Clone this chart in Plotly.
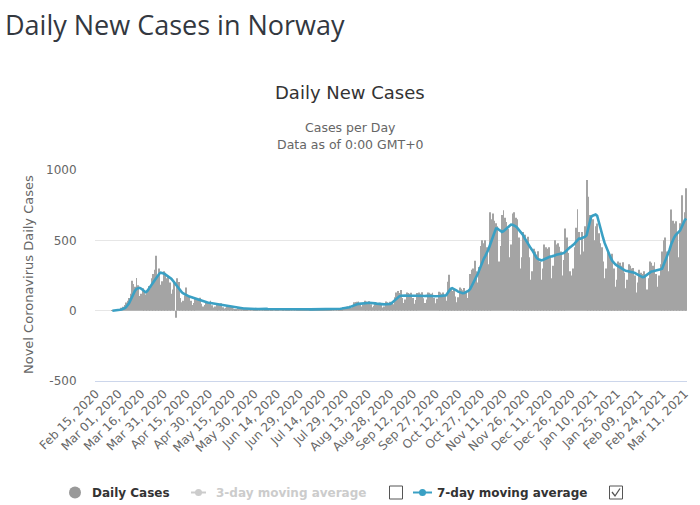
import plotly.graph_objects as go
import pandas as pd

# ---------------- data ----------------
start_date = "2020-02-15"
n_days = 392
dates = pd.date_range(start_date, periods=n_days, freq="D").strftime("%b %d, %Y").tolist()

N = None
daily_cases = [
    N, N, N, N, N, N, N,
    N, N, N, N, 1, 0, 1,
    4, 6, 12, 20, 28, 40, 58,
    70, 90, 120, 213, 190, 170, 232,
    180, 105, 120, 160, 140, 115, 146,
    175, 160, 230, 260, 290, 390, 245,
    300, 185, 210, 280, 270, 230, 240,
    200, 120, 150, 210, -50, 230, 204,
    90, 60, 70, 110, 165, 100, 105,
    70, 40, 55, 90, 85, 80, 91,
    50, 30, 40, 65, 62, 60, 71,
    38, 22, 30, 48, 46, 44, 52,
    25, 15, 20, 32, 30, 28, 32,
    16, 8, 12, 20, 18, 19, 19,
    12, 6, 10, 17, 15, 16, 15,
    13, 7, 10, 18, 17, 16, 17,
    11, 6, 9, 15, 14, 14, 15,
    12, 8, 10, 17, 15, 14, 15,
    13, 7, 11, 16, 18, 16, 17,
    9, 5, 7, 12, 12, 12, 13,
    10, 4, 8, 12, 11, 12, 13,
    9, 5, 8, 13, 12, 11, 12,
    11, 6, 9, 16, 15, 17, 17,
    14, 8, 12, 22, 26, 28, 30,
    35, 20, 30, 60, 62, 64, 65,
    50, 30, 45, 70, 66, 64, 67,
    45, 25, 35, 60, 55, 52, 57,
    40, 22, 30, 65, 60, 55, 64,
    60, 45, 95, 130, 140, 125, 147,
    90, 55, 80, 130, 125, 120, 128,
    90, 50, 75, 125, 130, 120, 131,
    88, 55, 80, 130, 128, 120, 127,
    90, 52, 85, 135, 130, 120, 130,
    110, 70, 205, 255, 160, 140, 152,
    100, 60, 95, 165, 155, 145, 162,
    130, 90, 150, 260, 290, 300, 355,
    280, 200, 310, 460, 500, 480, 500,
    450, 330, 700, 650, 690, 640, 621,
    600, 350, 460, 680, 714, 660, 631,
    580, 380, 470, 690, 700, 660, 650,
    520, 300, 380, 560, 540, 500, 525,
    380, 220, 280, 440, 420, 400, 422,
    350, 220, 300, 470, 450, 440, 451,
    380, 230, 320, 500, 470, 480, 455,
    420, 250, 360, 585, 520, 410, 280,
    250, 300, 450, 590, 721, 560, 400,
    560, 420, 600, 929, 810, 680, 670,
    650, 500, 600, 620, 550, 480, 450,
    350, 230, 300, 420, 400, 380, 405,
    300, 170, 220, 350, 340, 320, 344,
    270, 160, 220, 330, 320, 300, 304,
    250, 130, 200, 290, 270, 260, 280,
    240, 150, 230, 350, 340, 320, 344,
    260, 170, 250, 330, 420, 500, 520,
    420, 280, 450, 720, 640, 620, 636,
    560, 380, 621, 821, 632, 700, 871,
]

moving_avg_7 = [
    N, N, N, N, N, N, N,
    N, N, N, N, 0, 0.3, 1,
    2, 4, 6, 9, 12, 17, 24,
    35, 52, 75, 100, 122, 142, 155,
    160, 162, 157, 148, 136, 131, 138,
    150, 168, 185, 200, 218, 236, 250,
    262, 270, 268, 265, 258, 252, 245,
    240, 228, 214, 200, 185, 170, 152,
    140, 130, 122, 115, 110, 105, 100,
    97, 93, 89, 85, 81, 77, 73,
    70, 67, 64, 61, 58, 56, 54,
    52, 50, 48, 46, 44, 42, 40,
    38, 36, 34, 32, 30, 28, 26,
    24, 22, 20, 19, 18, 17, 16,
    15, 15, 14, 14, 14, 13, 13,
    13, 12, 12, 12, 13, 14, 14,
    14, 13, 12, 12, 11, 11, 12,
    13, 14, 15, 15, 14, 14, 13,
    12, 12, 11, 11, 12, 13, 14,
    14, 13, 12, 11, 11, 10, 10,
    10, 10, 9, 9, 9, 10, 10,
    11, 11, 10, 10, 9, 9, 10,
    11, 11, 12, 12, 12, 13, 13,
    14, 14, 15, 16, 17, 18, 20,
    24, 29, 34, 39, 43, 46, 48,
    50, 52, 53, 54, 55, 55, 56,
    56, 55, 54, 52, 50, 48, 47,
    46, 45, 45, 46, 46, 47, 48,
    55, 65, 75, 85, 95, 102, 106,
    108, 108, 107, 106, 105, 104, 104,
    105, 106, 106, 105, 104, 104, 103,
    103, 104, 105, 106, 106, 105, 104,
    103, 102, 102, 103, 104, 105, 106,
    107, 110, 125, 145, 155, 160, 156,
    150, 143, 135, 130, 125, 124, 126,
    130, 136, 143, 155, 175, 200, 225,
    240, 262, 290, 321, 345, 370, 390,
    410, 435, 465, 500, 530, 555, 583,
    583, 575, 565, 560, 565, 575, 585,
    595, 605, 612, 610, 607, 600, 590,
    578, 565, 550, 536, 515, 495, 475,
    455, 445, 430, 410, 390, 375, 366,
    362, 358, 360, 365, 372, 378, 383,
    385, 386, 388, 392, 398, 402, 405,
    405, 406, 410, 420, 432, 442, 450,
    458, 465, 475, 490, 505, 512, 512,
    515, 520, 526, 536, 580, 630, 667,
    675, 680, 683, 675, 630, 590, 550,
    515, 480, 450, 420, 395, 375, 355,
    340, 330, 322, 315, 305, 298, 292,
    288, 284, 280, 278, 276, 274, 272,
    268, 262, 255, 248, 242, 238, 240,
    248, 258, 268, 275, 278, 280, 282,
    285, 288, 290, 294, 298, 325, 350,
    370, 400, 435, 470, 500, 520, 538,
    550, 560, 571, 595, 620, 643, 655,
]

x_tick_labels = [
    "Feb 15, 2020", "Mar 01, 2020", "Mar 16, 2020", "Mar 31, 2020", "Apr 15, 2020",
    "Apr 30, 2020", "May 15, 2020", "May 30, 2020", "Jun 14, 2020", "Jun 29, 2020",
    "Jul 14, 2020", "Jul 29, 2020", "Aug 13, 2020", "Aug 28, 2020", "Sep 12, 2020",
    "Sep 27, 2020", "Oct 12, 2020", "Oct 27, 2020", "Nov 11, 2020", "Nov 26, 2020",
    "Dec 11, 2020", "Dec 26, 2020", "Jan 10, 2021", "Jan 25, 2021", "Feb 09, 2021",
    "Feb 24, 2021", "Mar 11, 2021",
]
y_tick_values = [-500, 0, 500, 1000]
y_tick_labels = ["-500", "0", "500", "1000"]

# ---------------- layout helpers (pixel -> paper) ----------------
W, H = 700, 505
ML, MR, MT, MB = 95, 13, 170, 124
PW, PH = W - ML - MR, H - MT - MB


def px(x):
    return (x - ML) / PW


def py(y):
    return (H - MB - y) / PH


BAR_COLOR = "#a4a4a4"
LINE_COLOR = "#3aa0c4"
FONT = "DejaVu Sans, Open Sans, sans-serif"

fig = go.Figure()
fig.add_trace(go.Bar(x=dates, y=daily_cases, marker=dict(color=BAR_COLOR, line=dict(width=0)),
                     name="Daily Cases"))
fig.add_trace(go.Scatter(x=dates, y=moving_avg_7, mode="lines",
                         line=dict(color=LINE_COLOR, width=2.6), connectgaps=False,
                         name="7-day moving average"))

annotations = [
    dict(text="Daily New Cases in Norway", x=px(3), y=py(24), xanchor="left", yanchor="middle",
         font=dict(family="Open Sans, sans-serif", size=27, color="#33383f")),
    dict(text="Daily New Cases", x=px(350), y=py(93), xanchor="center", yanchor="middle",
         font=dict(family=FONT, size=18, color="#333333")),
    dict(text="Cases per Day", x=px(350), y=py(127.5), xanchor="center", yanchor="middle",
         font=dict(family=FONT, size=12.5, color="#666666")),
    dict(text="Data as of 0:00 GMT+0", x=px(350), y=py(144), xanchor="center", yanchor="middle",
         font=dict(family=FONT, size=12.5, color="#666666")),
    dict(text="Novel Coronavirus Daily Cases", x=px(28), y=py(275), xanchor="center",
         yanchor="middle", textangle=-90, font=dict(family=FONT, size=13, color="#666666")),
    dict(text="<b>Daily Cases</b>", x=px(90), y=py(492.5), xanchor="left", yanchor="middle",
         font=dict(family=FONT, size=12, color="#333333")),
    dict(text="<b>3-day moving average</b>", x=px(214), y=py(492.5), xanchor="left",
         yanchor="middle", font=dict(family=FONT, size=12, color="#cccccc")),
    dict(text="<b>7-day moving average</b>", x=px(435), y=py(492.5), xanchor="left",
         yanchor="middle", font=dict(family=FONT, size=12, color="#333333")),
]
for a in annotations:
    a.update(xref="paper", yref="paper", showarrow=False)

shapes = [
    # legend: daily cases circle
    dict(type="circle", x0=px(69), x1=px(81), y0=py(498.5), y1=py(486.5),
         fillcolor="#999999", line=dict(width=0)),
    # 3-day icon
    dict(type="line", x0=px(191), x1=px(206), y0=py(492.5), y1=py(492.5),
         line=dict(color="#cccccc", width=2)),
    dict(type="circle", x0=px(195), x1=px(202), y0=py(496), y1=py(489),
         fillcolor="#cccccc", line=dict(width=0)),
    # checkbox 1
    dict(type="rect", x0=px(389.5), x1=px(402.5), y0=py(499), y1=py(486),
         line=dict(color="#555555", width=1), fillcolor="white"),
    # 7-day icon
    dict(type="line", x0=px(413), x1=px(432), y0=py(492.5), y1=py(492.5),
         line=dict(color=LINE_COLOR, width=2)),
    dict(type="circle", x0=px(419), x1=px(426), y0=py(496), y1=py(489),
         fillcolor=LINE_COLOR, line=dict(width=0)),
    # checkbox 2 (checked)
    dict(type="rect", x0=px(609.5), x1=px(622.5), y0=py(499), y1=py(486),
         line=dict(color="#555555", width=1), fillcolor="white"),
    dict(type="path",
         path=f"M {px(612)} {py(492)} L {px(615)} {py(496)} L {px(620)} {py(488.5)}",
         line=dict(color="#555555", width=1.3)),
]
for s in shapes:
    s.update(xref="paper", yref="paper")

fig.update_layout(
    width=W, height=H,
    margin=dict(l=ML, r=MR, t=MT, b=MB, pad=0),
    paper_bgcolor="white", plot_bgcolor="white",
    showlegend=False, bargap=0.4,
    font=dict(family=FONT, color="#666666"),
    annotations=annotations, shapes=shapes,
    xaxis=dict(type="category", range=[-0.5, n_days - 0.5], tickmode="array",
               tickvals=x_tick_labels, ticktext=x_tick_labels, tickangle=-45,
               tickfont=dict(family=FONT, size=12, color="#666666"),
               showgrid=False, showline=True, linecolor="#ccd6eb", linewidth=1,
               ticks="", automargin=False, fixedrange=True),
    yaxis=dict(range=[-500, 1000], tickmode="array", tickvals=y_tick_values,
               ticktext=y_tick_labels, tickfont=dict(family=FONT, size=12, color="#666666"),
               showgrid=True, gridcolor="#e6e6e6", gridwidth=1, zeroline=True,
               zerolinecolor="#e6e6e6", zerolinewidth=1, ticks="outside", ticklen=15,
               tickcolor="rgba(0,0,0,0)", showline=False, automargin=False, fixedrange=True),
)

fig.write_html("out.html", config={"displayModeBar": False})
